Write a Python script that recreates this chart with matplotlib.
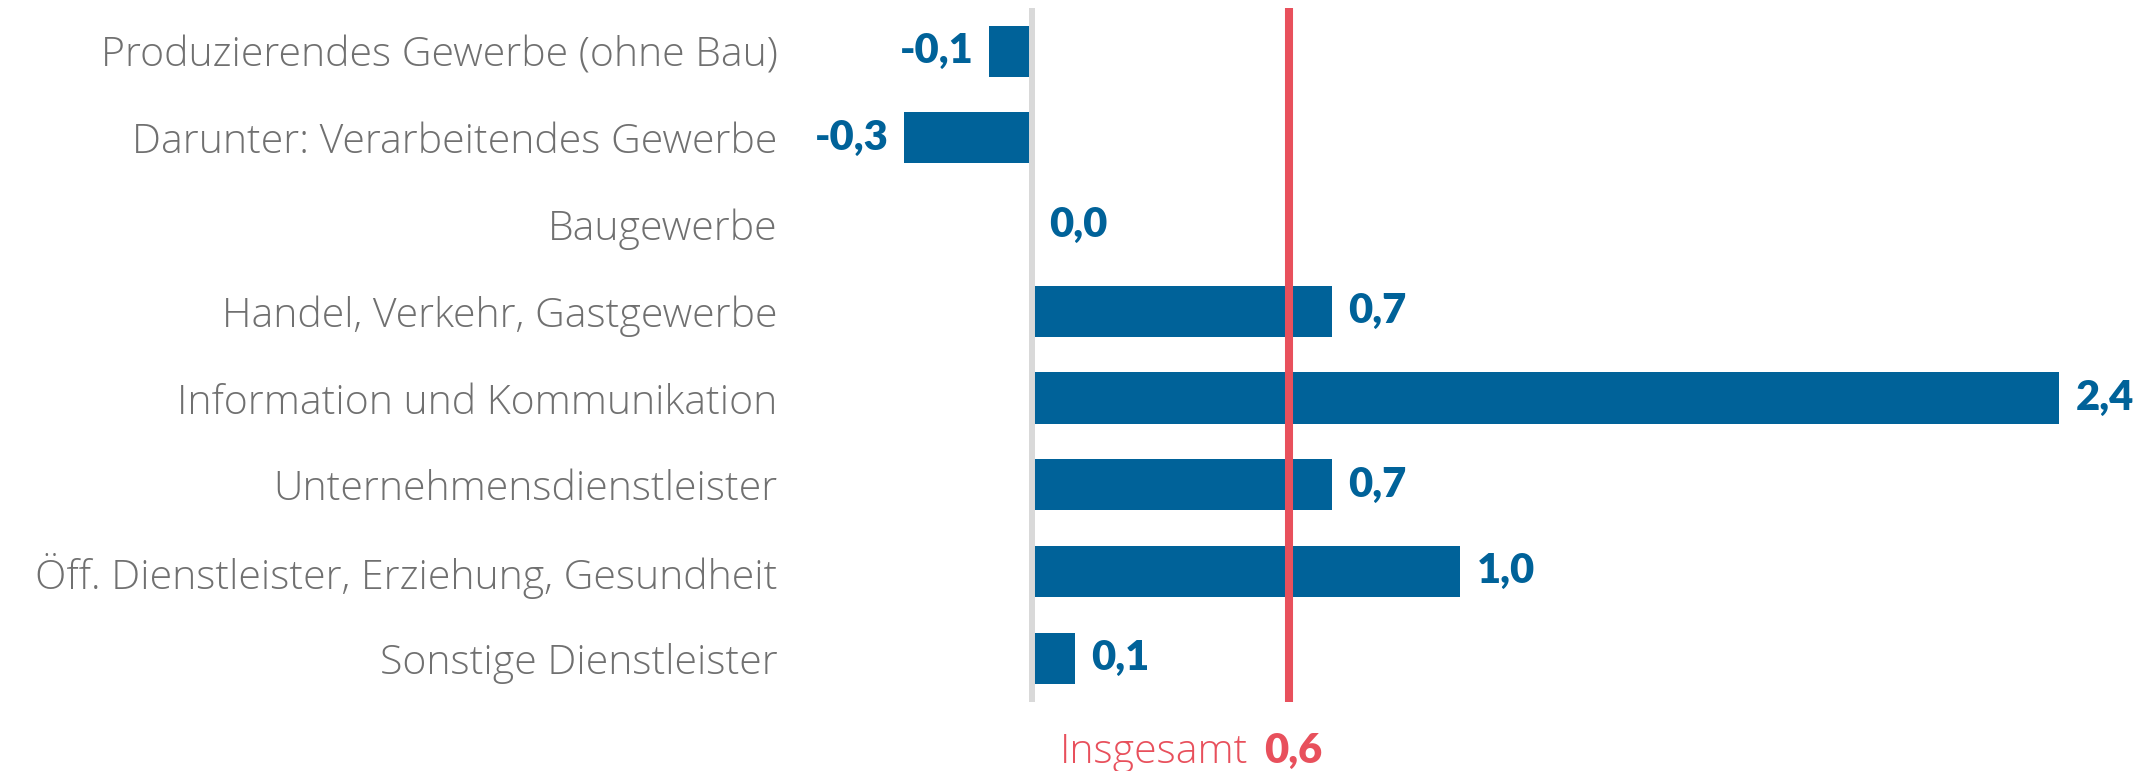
import numpy as np
import matplotlib.pyplot as plt

plt.rcParams['font.family'] = ['Lato', 'DejaVu Sans']

# Daten
kategorien = ['Produzierendes Gewerbe (ohne Bau)',
              'Darunter: Verarbeitendes Gewerbe',
              'Baugewerbe',
              'Handel, Verkehr, Gastgewerbe',
              'Information und Kommunikation',
              'Unternehmensdienstleister',
              'Öff. Dienstleister, Erziehung, Gesundheit',
              'Sonstige Dienstleister']
werte = [-0.1, -0.3, 0.0, 0.7, 2.4, 0.7, 1.0, 0.1]
insgesamt = 0.6

blau = '#006299'
rot = '#E8505C'
grau_text = '#707070'
grau_linie = '#d9d9d9'
label_font = ['Open Sans', 'DejaVu Sans']

fig = plt.figure(figsize=(21.52, 7.71), dpi=100)
ax = fig.add_axes([790/2152, 1 - 701.5/771, 1 - 790/2152, (701.5 - 7.8)/771])

y = np.arange(len(kategorien))
ax.barh(y, werte, height=0.59, color=blau, zorder=2)

ax.axvline(0, color=grau_linie, linewidth=4.3, zorder=3)
ax.axvline(insgesamt, color=rot, linewidth=5.8, zorder=4)

# Wertbeschriftungen
for yi, v in zip(y, werte):
    txt = f'{v:.1f}'.replace('.', ',')
    if v < 0:
        ax.annotate(txt, (v, yi), xytext=(-11, 0), textcoords='offset points',
                    ha='right', va='center', color=blau, fontsize=30, fontweight='heavy')
    else:
        ax.annotate(txt, (v, yi), xytext=(12, 0), textcoords='offset points',
                    ha='left', va='center', color=blau, fontsize=30, fontweight='heavy')

# Insgesamt
ges_txt = f'{insgesamt:.1f}'.replace('.', ',')
ax.annotate(ges_txt, (insgesamt, 0), xycoords=('data', 'axes fraction'),
            xytext=(3, -44), textcoords='offset points', ha='center', va='baseline',
            color=rot, fontsize=30, fontweight='heavy', annotation_clip=False)
ax.annotate('Insgesamt', (insgesamt, 0), xycoords=('data', 'axes fraction'),
            xytext=(-29, -44), textcoords='offset points', ha='right', va='baseline',
            color=rot, fontsize=29.5, family=label_font, fontweight='light',
            annotation_clip=False)

ax.set_xlim((790 - 1032) / 428, (2152 - 1032) / 428)
ax.set_ylim(len(kategorien) - 0.5, -0.5)
ax.set_yticks(y)
ax.set_yticklabels(kategorien, fontsize=29.5, color=grau_text, family=label_font,
                   fontweight='light')
ax.tick_params(axis='y', length=0, pad=9)
ax.set_xticks([])
for s in ax.spines.values():
    s.set_visible(False)

fig.savefig('out.png', dpi=100)
